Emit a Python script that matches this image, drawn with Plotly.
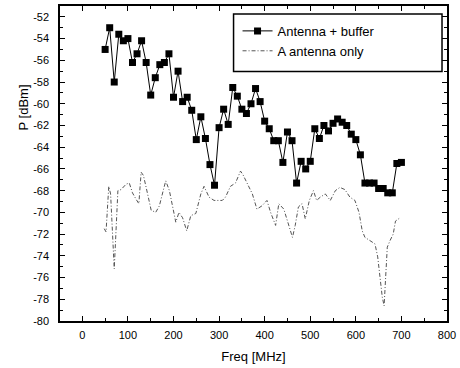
import plotly.graph_objects as go

# Series 1: Antenna + buffer (10 MHz steps)
freq_buf = list(range(50, 701, 10))
p_buf = [-55.0, -53.0, -58.0, -53.6, -54.2, -54.0, -56.2, -55.4, -54.2, -56.2,
         -59.2, -57.6, -56.4, -56.2, -55.4, -59.4, -57.0, -59.8, -59.4, -60.6,
         -63.3, -61.2, -63.2, -65.6, -67.5, -62.2, -60.5, -61.9, -58.5, -59.3,
         -60.5, -60.9, -60.0, -58.6, -59.8, -61.6, -62.3, -63.4, -63.4, -65.4,
         -62.6, -63.4, -67.3, -65.3, -66.0, -65.3, -62.3, -63.2, -62.0, -62.5,
         -61.8, -61.4, -61.7, -62.0, -62.8, -63.3, -64.7, -67.3, -67.3, -67.3,
         -67.8, -67.8, -68.2, -68.2, -65.5, -65.4]

# Series 2: A antenna only
freq_ant = [48, 52, 58, 62, 70, 78, 85, 96, 103, 110, 118, 124, 129, 134, 140, 151,
            161, 169, 178, 183, 191, 198, 205, 212, 220, 229, 238, 249, 260, 267,
            278, 289, 296, 307, 314, 325, 336, 347, 352, 362, 373, 383, 394, 405,
            413, 424, 431, 442, 453, 461, 467, 474, 482, 489, 498, 507, 514, 522,
            533, 544, 555, 565, 576, 587, 598, 607, 614, 620, 631, 642, 648, 653,
            658, 662, 665, 669, 675, 682, 687, 697]
p_ant = [-71.5, -71.8, -67.6, -68.3, -75.2, -68.0, -67.9, -67.4, -67.3, -68.2,
         -68.8, -69.2, -66.3, -66.6, -67.7, -69.8, -70.0, -69.4, -67.9, -67.1,
         -68.0, -69.5, -70.9, -70.0, -70.5, -71.7, -70.3, -70.1, -68.3, -67.6,
         -68.6, -68.9, -68.9, -68.9, -68.6, -67.6, -67.3, -66.2, -66.5, -67.4,
         -68.3, -69.7, -69.4, -68.9, -70.0, -71.2, -69.2, -69.7, -71.2, -72.3,
         -71.2, -69.5, -69.2, -70.6, -68.9, -68.0, -68.9, -68.6, -68.3, -68.9,
         -68.0, -67.7, -67.9, -68.6, -68.9, -70.0, -71.7, -72.3, -72.6, -72.9,
         -74.1, -75.9, -77.8, -78.6, -75.9, -73.2, -72.6, -72.0, -70.8, -70.5]

x_ticks = list(range(0, 801, 100))
y_ticks = list(range(-80, -51, 2))

FONT = "Liberation Sans, Arial, sans-serif"

fig = go.Figure()
fig.add_trace(go.Scatter(
    x=freq_buf, y=p_buf, mode="lines+markers", name="Antenna + buffer",
    line=dict(color="black", width=1),
    marker=dict(symbol="square", size=7, color="black"),
))
fig.add_trace(go.Scatter(
    x=freq_ant, y=p_ant, mode="lines", name="A antenna only",
    line=dict(color="#555555", width=1, dash="4px,2px,1px,2px"),
))

L, R, T, B = 60, 12, 4, 47
W, H = 460, 368
pw, ph = W - L - R, H - T - B

def px(xp):
    return (xp - L) / pw

def py(yp):
    return (H - B - yp) / ph

axis_common = dict(
    showline=True, linecolor="black", linewidth=1.5, mirror="ticks",
    ticks="inside", ticklen=5, tickwidth=1, tickcolor="black",
    showgrid=False, zeroline=False,
    tickfont=dict(family=FONT, size=11, color="black"),
)

fig.update_xaxes(
    range=[-49, 800], tickvals=x_ticks, ticktext=[str(v) for v in x_ticks],
    minor=dict(dtick=50, tick0=0, ticks="inside", ticklen=3, tickcolor="black"),
    ticklabelstandoff=3,
    title=dict(text="Freq [MHz]", font=dict(family=FONT, size=13, color="black"), standoff=12),
    **axis_common,
)
fig.update_yaxes(
    range=[-80, -51], tickvals=y_ticks, ticktext=[str(v) for v in y_ticks],
    minor=dict(dtick=1, tick0=0, ticks="inside", ticklen=3, tickcolor="black"),
    ticklabelstandoff=7,
    **axis_common,
)

fig.add_annotation(
    text="P [dBm]", textangle=-90, xref="paper", yref="paper",
    x=px(23), y=py(106), xanchor="center", yanchor="middle", showarrow=False,
    font=dict(family=FONT, size=13, color="black"),
)

fig.add_shape(type="rect", xref="paper", yref="paper",
              x0=px(234), x1=px(443), y0=py(70), y1=py(12),
              line=dict(color="black", width=1.5), fillcolor="white", layer="below")

fig.update_layout(
    width=W, height=H,
    margin=dict(l=L, r=R, t=T, b=B),
    paper_bgcolor="white", plot_bgcolor="white",
    showlegend=True,
    legend=dict(x=px(238), y=py(14), xanchor="left", yanchor="top",
                bgcolor="rgba(0,0,0,0)", borderwidth=0,
                font=dict(family=FONT, size=13, color="black"),
                itemwidth=30, tracegroupgap=0),
)

fig.write_html("out.html")
